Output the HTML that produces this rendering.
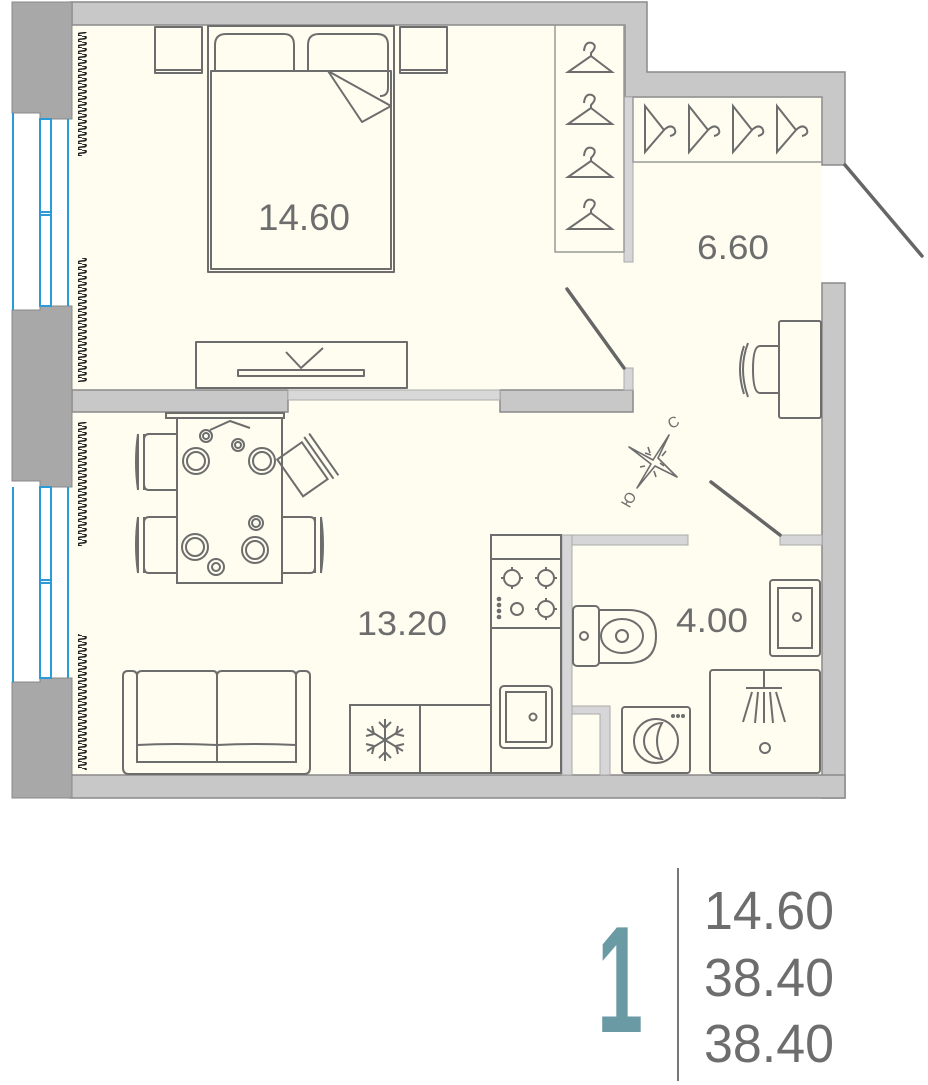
<!DOCTYPE html>
<html><head><meta charset="utf-8"><style>
html,body{margin:0;padding:0;background:#fff;width:928px;height:1085px;overflow:hidden}
svg{display:block}
text{font-family:"Liberation Sans",sans-serif;fill:#6d6d6d}
</style></head><body>
<svg width="928" height="1085" viewBox="0 0 928 1085" xmlns="http://www.w3.org/2000/svg">
<defs>
<pattern id="wave" x="78" y="0" width="10" height="6" patternUnits="userSpaceOnUse">
<path d="M4 0 C9.5 0 9.5 3 4 3 C-1.5 3 -1.5 6 4 6" fill="none" stroke="#222" stroke-width="1.6"/>
</pattern>
</defs>
<path d="M70 22 H625 V95 H822 V775 H70 Z" fill="#fefdf0"/>
<g fill="#c8c8c8" stroke="#8a8a8a" stroke-width="1.5">
<path d="M70 2 H647 V72 H845 V165 H822 V97 H647 H625 V25 H72 V2 Z"/>
<rect x="822" y="283" width="23" height="515"/>
<rect x="70" y="775" width="775" height="23"/>
<rect x="72" y="390" width="216" height="22"/>
<rect x="500" y="390" width="133" height="22"/>
</g>
<rect x="288" y="390" width="212" height="10" fill="#d8d8d8" stroke="#aaa"/>
<g fill="#d6d6d8" stroke="#aaa" stroke-width="1">
<rect x="624" y="97" width="9" height="165"/>
<rect x="624" y="368" width="9" height="22"/>
<rect x="562" y="535" width="126" height="10"/>
<rect x="780" y="535" width="42" height="10"/>
<rect x="562" y="535" width="10" height="240"/>
<path d="M572 706 H610 V775 H600 V714 H572 Z"/>
</g>
<g fill="#a8a8a8" stroke="#888" stroke-width="1">
<path d="M12 2 H72 V119 H40 V113 H12 Z"/>
<path d="M12 310 H40 V306 H72 V487 H40 V481 H12 Z"/>
<path d="M12 682 H40 V678 H72 V798 H12 Z"/>
</g>
<g stroke="#2a9ad8" stroke-width="2" fill="none">
<line x1="13" y1="113" x2="13" y2="310"/><line x1="68" y1="119" x2="68" y2="306"/>
<rect x="40" y="119" width="11" height="187"/><line x1="40" y1="212" x2="51" y2="212"/><line x1="40" y1="215" x2="51" y2="215"/>
<line x1="13" y1="487" x2="13" y2="682"/><line x1="68" y1="487" x2="68" y2="678"/>
<rect x="40" y="487" width="11" height="191"/><line x1="40" y1="580" x2="51" y2="580"/><line x1="40" y1="583" x2="51" y2="583"/>
</g>
<g fill="url(#wave)">
<rect x="78" y="32" width="10" height="124"/>
<rect x="78" y="258" width="10" height="124"/>
<rect x="78" y="422" width="10" height="124"/>
<rect x="78" y="634" width="10" height="136"/>
</g>
<g fill="none" stroke="#6d6d6d" stroke-width="2" stroke-linejoin="round">
<rect x="155" y="27" width="47" height="46"/><line x1="155" y1="70" x2="202" y2="70"/>
<rect x="400" y="27" width="47" height="46"/><line x1="400" y1="70" x2="447" y2="70"/>
<rect x="208" y="26" width="186" height="246"/>
<rect x="211" y="71" width="180" height="198"/>
<path d="M215 71 V45 Q215 34 226 34 H284 Q294 34 294 45 V71"/>
<path d="M308 71 V45 Q308 34 319 34 H377 Q388 34 388 45 V88 Q388 96 380 96"/>
<path d="M328 71 L362 122 L391 106 Z" fill="#fefdf0"/>
<rect x="196" y="342" width="211" height="46"/>
<rect x="238" y="370" width="126" height="6"/>
<path d="M286 352 L301 368 L323 348"/>
<rect x="555" y="25" width="69" height="227" stroke="#999" stroke-width="1.5"/>
<rect x="633" y="97" width="189" height="65" stroke="#999" stroke-width="1.5"/>
</g>
<g fill="none" stroke="#6d6d6d" stroke-width="2">
<g id="hg"><path d="M584 51 Q585 41 592 43 Q598 46 591 53 L591 56 L568 72 H612 L591 56"/></g>
<use href="#hg" y="52"/><use href="#hg" y="105"/><use href="#hg" y="157"/>
<g id="hh"><path d="M645 106 V152 L664 130 Z M664 130 Q670 124 674 128 Q678 134 670 136"/></g>
<use href="#hh" x="44"/><use href="#hh" x="88"/><use href="#hh" x="132"/>
</g>
<g stroke="#666" stroke-width="3.5" stroke-linecap="round">
<line x1="845" y1="165" x2="922" y2="256"/>
<line x1="567" y1="289" x2="624" y2="368"/>
<line x1="711" y1="482" x2="780" y2="535"/>
</g>
<g fill="none" stroke="#6d6d6d" stroke-width="2">
<rect x="779" y="321" width="42" height="97" rx="2"/>
<path d="M779 346 H760 Q753 346 753 369 Q753 393 760 393 H779"/>
<path d="M748 343 Q738 369 748 397"/><path d="M744 346 Q736 369 744 394"/>
</g>
<g fill="none" stroke="#6d6d6d" stroke-width="1.6" stroke-linejoin="round">
<path d="M669 435 L658 458 L677 477 L655 466 L637 488 L651 464 L629 447 L653 460 Z"/>
<path d="M648 447 L650 453 M645 453 L651 455 M662 456 L666 451 M660 463 L664 466 M654 471 L656 477 M645 466 L640 467"/>
</g>
<text x="668" y="427" font-size="15" transform="rotate(-30 674 422)">С</text>
<text x="618" y="505" font-size="15" transform="rotate(-60 627 497)">Ю</text>
<g fill="none" stroke="#6d6d6d" stroke-width="2">
<rect x="166" y="413" width="118" height="5"/>
<rect x="177" y="418" width="105" height="165"/>
<path d="M210 430 L230 421 L250 428"/>
<circle cx="206" cy="436" r="6"/><circle cx="206" cy="436" r="3"/>
<circle cx="238" cy="445" r="6"/><circle cx="238" cy="445" r="3"/>
<circle cx="196" cy="461" r="13"/><circle cx="196" cy="461" r="9"/>
<circle cx="262" cy="461" r="13"/><circle cx="262" cy="461" r="9"/>
<circle cx="256" cy="523" r="7"/><circle cx="256" cy="523" r="4"/>
<circle cx="195" cy="547" r="13"/><circle cx="195" cy="547" r="9"/>
<circle cx="255" cy="550" r="13"/><circle cx="255" cy="550" r="9"/>
<circle cx="216" cy="567" r="8"/><circle cx="216" cy="567" r="4"/>
<path d="M177 434 H149 Q144 434 144 440 V484 Q144 490 149 490 H177"/><path d="M144 434 V490 M138 434 Q134 462 138 490 M138 434 V490"/>
<path d="M177 517 H149 Q144 517 144 523 V567 Q144 573 149 573 H177"/><path d="M144 517 V573 M138 517 Q134 545 138 573 M138 517 V573"/>
<path d="M282 517 H310 Q315 517 315 523 V567 Q315 573 310 573 H282"/><path d="M315 517 V573 M321 517 Q325 545 321 573 M321 517 V573"/>
<g transform="rotate(-35 312 462)"><path d="M285 440 H315 V485 H285 Z"/><path d="M320 437 V488 M326 437 V488"/></g>
<path d="M123 708 V676 Q123 671 128 671 H132 Q137 671 137 676 V762 H296 V676 Q296 671 301 671 H305 Q310 671 310 676 V768 Q310 774 304 774 H129 Q123 774 123 768 Z"/>
<path d="M137 676 Q137 671 142 671 H213 Q217 671 217 676 V762 M217 676 Q217 671 222 671 H291 Q296 671 296 676"/>
<path d="M137 745 Q175 743 217 745 Q255 743 296 745"/>
<rect x="350" y="705" width="141" height="68"/><line x1="420" y1="705" x2="420" y2="773"/>
<rect x="491" y="535" width="70" height="238"/>
<line x1="491" y1="559" x2="561" y2="559"/><line x1="491" y1="628" x2="561" y2="628"/>
<rect x="500" y="686" width="52" height="62" rx="4"/><rect x="506" y="692" width="40" height="50"/>
<circle cx="533" cy="717" r="3.5"/>
<circle cx="512" cy="578" r="8"/><circle cx="546" cy="578" r="8"/><circle cx="517" cy="609" r="6"/><circle cx="546" cy="609" r="8"/>
<path d="M512 567 V571 M512 585 V589 M501 578 H505 M519 578 H523 M546 567 V571 M546 585 V589 M535 578 H539 M553 578 H557 M546 598 V602 M546 616 V620 M535 609 H539 M553 609 H557"/>
<rect x="573" y="606" width="26" height="60" rx="4"/>
<path d="M599 610 H628 Q656 610 656 636 Q656 663 628 663 H599"/>
<ellipse cx="622" cy="636" rx="21" ry="17"/><circle cx="622" cy="636" r="6"/><circle cx="584" cy="636" r="4"/>
<rect x="770" y="580" width="50" height="76" rx="3"/><rect x="778" y="588" width="34" height="60"/><circle cx="797" cy="617" r="4"/>
<rect x="622" y="707" width="68" height="66" rx="3"/><circle cx="656" cy="741" r="22"/><path d="M662 723 A18 18 0 1 0 662 759 Q652 741 662 723 Z"/>
<rect x="710" y="670" width="110" height="103" rx="3"/>
<path d="M764 670 V688 M746 688 H782 M752 692 L743 722 M758 692 L755 723 M764 692 V723 M770 692 L773 723 M776 692 L785 722"/>
<circle cx="765" cy="748" r="5"/>
</g>
<g fill="#6d6d6d"><circle cx="673" cy="716" r="2"/><circle cx="678" cy="716" r="2"/><circle cx="683" cy="716" r="2"/>
<circle cx="499" cy="599" r="2.3"/><circle cx="499" cy="605" r="2.3"/><circle cx="499" cy="611" r="2.3"/><circle cx="499" cy="617" r="2.3"/></g>
<g stroke="#6d6d6d" stroke-width="2" fill="none">
<path d="M385 719 V761 M367 729 L403 751 M367 751 L403 729"/>
<path d="M379 722 L385 728 L391 722 M379 758 L385 752 L391 758 M366 736 L374 734 L372 726 M404 744 L396 746 L398 754 M366 744 L374 746 L372 754 M404 736 L396 734 L398 726"/>
</g>
<text x="258" y="230" font-size="37" textLength="92" lengthAdjust="spacingAndGlyphs">14.60</text>
<text x="697" y="259" font-size="34" textLength="72" lengthAdjust="spacingAndGlyphs">6.60</text>
<text x="357" y="635" font-size="34" textLength="90" lengthAdjust="spacingAndGlyphs">13.20</text>
<text x="676" y="632" font-size="34" textLength="72" lengthAdjust="spacingAndGlyphs">4.00</text>
<line x1="678" y1="868" x2="678" y2="1081" stroke="#777" stroke-width="2"/>
<text x="597" y="1032" font-size="152" font-weight="bold" style="fill:#6a9aa3" textLength="46" lengthAdjust="spacingAndGlyphs">1</text>
<text x="704" y="929" font-size="54" textLength="130" lengthAdjust="spacingAndGlyphs">14.60</text>
<text x="704" y="996" font-size="54" textLength="130" lengthAdjust="spacingAndGlyphs">38.40</text>
<text x="704" y="1062" font-size="54" textLength="130" lengthAdjust="spacingAndGlyphs">38.40</text>
</svg>
</body></html>
